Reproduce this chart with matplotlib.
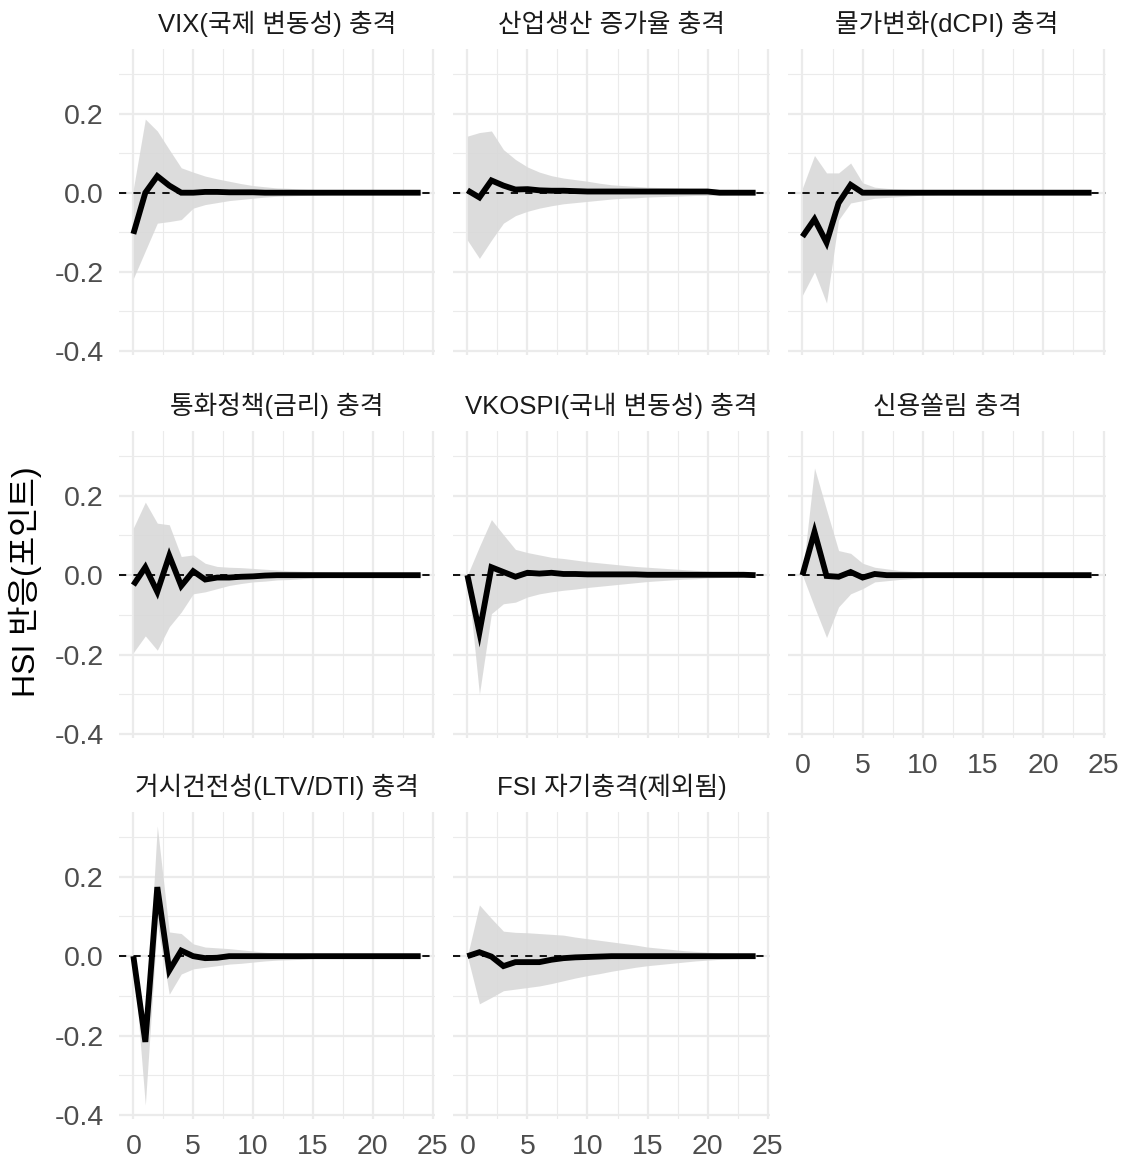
import numpy as np
import matplotlib
matplotlib.use("Agg")
import matplotlib.pyplot as plt

plt.rcParams['font.family'] = ['Liberation Sans', 'Noto Sans CJK KR', 'DejaVu Sans']

horizon = np.arange(0, 25)

titles = ["VIX(국제 변동성) 충격", "산업생산 증가율 충격", "물가변화(dCPI) 충격",
          "통화정책(금리) 충격", "VKOSPI(국내 변동성) 충격", "신용쏠림 충격",
          "거시건전성(LTV/DTI) 충격", "FSI 자기충격(제외됨)"]

def tail(vals, n=25):
    vals = list(vals)
    return vals + [vals[-1]] * (n - len(vals))

# IRF point estimates
irf_vix = tail([-0.104, 0.0, 0.042, 0.018, 0.0, 0.0, 0.002, 0.002, 0.001, 0.001, 0.001,
                0.0])
irf_ip = tail([0.006, -0.012, 0.031, 0.018, 0.008, 0.009, 0.006, 0.005, 0.005, 0.004,
               0.003, 0.003, 0.003, 0.003, 0.003, 0.003, 0.003, 0.003, 0.003, 0.003,
               0.003, 0.0])
irf_cpi = tail([-0.111, -0.067, -0.126, -0.026, 0.02, 0.0])
irf_mp = tail([-0.025, 0.02, -0.042, 0.049, -0.027, 0.01, -0.011, -0.006, -0.006,
               -0.004, -0.003, -0.001, 0.0])
irf_vkospi = tail([0.0, -0.144, 0.02, 0.008, -0.004, 0.006, 0.004, 0.006, 0.003, 0.003,
                   0.002, 0.002, 0.002, 0.002, 0.002, 0.001, 0.001, 0.001, 0.001, 0.001,
                   0.001, 0.001, 0.001, 0.001, 0.0])
irf_credit = tail([0.0, 0.109, -0.002, -0.004, 0.008, -0.006, 0.003, 0.0])
irf_macro = tail([0.0, -0.216, 0.174, -0.036, 0.014, 0.0, -0.005, -0.004, 0.0])
irf_fsi = tail([0.0, 0.01, -0.001, -0.025, -0.015, -0.015, -0.015, -0.009, -0.005,
                -0.003, -0.002, -0.001, 0.0])

# Upper bounds
up_vix = tail([0.01, 0.186, 0.156, 0.109, 0.063, 0.052, 0.042, 0.035, 0.029, 0.023,
               0.018, 0.015, 0.012, 0.011, 0.009, 0.008, 0.007, 0.006, 0.005, 0.004,
               0.003, 0.003, 0.002, 0.002, 0.002])
up_ip = tail([0.143, 0.152, 0.156, 0.109, 0.084, 0.065, 0.052, 0.043, 0.037, 0.033,
              0.029, 0.024, 0.02, 0.018, 0.016, 0.014, 0.013, 0.012, 0.011, 0.01,
              0.009, 0.008, 0.007, 0.006, 0.005])
up_cpi = tail([0.012, 0.094, 0.05, 0.05, 0.075, 0.025, 0.014, 0.011, 0.009, 0.008,
               0.006, 0.005, 0.004, 0.003, 0.002, 0.001])
up_mp = tail([0.119, 0.184, 0.131, 0.127, 0.047, 0.051, 0.03, 0.022, 0.02, 0.019,
              0.017, 0.015, 0.013, 0.011, 0.01, 0.009, 0.008, 0.007, 0.006, 0.005,
              0.004, 0.003, 0.002, 0.002, 0.001])
up_vkospi = tail([0.0, 0.072, 0.14, 0.102, 0.065, 0.057, 0.051, 0.045, 0.042, 0.038,
                  0.034, 0.031, 0.028, 0.025, 0.022, 0.02, 0.018, 0.016, 0.014, 0.012,
                  0.01, 0.008, 0.007, 0.005, 0.004])
up_credit = tail([0.0, 0.27, 0.165, 0.062, 0.055, 0.03, 0.02, 0.016, 0.012, 0.01,
                  0.008, 0.006, 0.004, 0.003, 0.002, 0.001])
up_macro = tail([0.0, -0.193, 0.328, 0.061, 0.057, 0.031, 0.023, 0.021, 0.019, 0.016,
                 0.013, 0.01, 0.008, 0.007, 0.006, 0.004, 0.003, 0.003, 0.002, 0.002,
                 0.001, 0.001, 0.001, 0.001, 0.001])
up_fsi = tail([0.0, 0.129, 0.095, 0.063, 0.06, 0.059, 0.057, 0.055, 0.053, 0.048,
               0.044, 0.04, 0.036, 0.032, 0.028, 0.023, 0.02, 0.017, 0.014, 0.012,
               0.01, 0.008, 0.007, 0.006, 0.004])

# Lower bounds
lo_vix = tail([-0.217, -0.147, -0.077, -0.073, -0.068, -0.039, -0.03, -0.025, -0.02,
               -0.017, -0.014, -0.011, -0.009, -0.008, -0.007, -0.006, -0.005, -0.004,
               -0.004, -0.003, -0.002, -0.002, -0.001, -0.001, -0.001])
lo_ip = tail([-0.12, -0.166, -0.12, -0.077, -0.058, -0.047, -0.039, -0.033, -0.028,
              -0.025, -0.022, -0.019, -0.016, -0.014, -0.013, -0.011, -0.01, -0.009,
              -0.008, -0.007, -0.007, -0.006, -0.005, -0.004, -0.004])
lo_cpi = tail([-0.259, -0.2, -0.279, -0.069, -0.026, -0.02, -0.014, -0.012, -0.01,
               -0.008, -0.006, -0.005, -0.003, -0.002, -0.001, -0.001])
lo_mp = tail([-0.195, -0.153, -0.189, -0.13, -0.093, -0.047, -0.042, -0.034, -0.026,
              -0.021, -0.017, -0.015, -0.012, -0.011, -0.009, -0.007, -0.006, -0.005,
              -0.004, -0.003, -0.002, -0.002, -0.001, -0.001, -0.001])
lo_vkospi = tail([0.0, -0.30, -0.097, -0.072, -0.068, -0.055, -0.047, -0.042, -0.038,
                  -0.035, -0.031, -0.028, -0.025, -0.022, -0.019, -0.016, -0.014,
                  -0.012, -0.01, -0.009, -0.007, -0.006, -0.005, -0.004, -0.003])
lo_credit = tail([0.0, -0.08, -0.157, -0.08, -0.047, -0.034, -0.017, -0.014, -0.011,
                  -0.009, -0.007, -0.005, -0.003, -0.002, -0.001, -0.001])
lo_macro = tail([0.0, -0.375, 0.082, -0.096, -0.045, -0.032, -0.028, -0.024, -0.02,
                 -0.018, -0.015, -0.012, -0.01, -0.009, -0.008, -0.006, -0.005, -0.004,
                 -0.003, -0.003, -0.002, -0.002, -0.001, -0.001, -0.001])
lo_fsi = tail([0.0, -0.12, -0.104, -0.087, -0.083, -0.079, -0.075, -0.069, -0.062,
               -0.055, -0.049, -0.044, -0.038, -0.033, -0.028, -0.024, -0.021, -0.018,
               -0.015, -0.012, -0.01, -0.008, -0.007, -0.006, -0.005])

irfs = [irf_vix, irf_ip, irf_cpi, irf_mp, irf_vkospi, irf_credit, irf_macro, irf_fsi]
uppers = [up_vix, up_ip, up_cpi, up_mp, up_vkospi, up_credit, up_macro, up_fsi]
lowers = [lo_vix, lo_ip, lo_cpi, lo_mp, lo_vkospi, lo_credit, lo_macro, lo_fsi]

y_ticks = [-0.4, -0.2, 0.0, 0.2]
y_tick_labels = ["-0.4", "-0.2", "0.0", "0.2"]
x_ticks = [0, 5, 10, 15, 20, 25]
x_tick_labels = ["0", "5", "10", "15", "20", "25"]

W, H = 1127, 1160
fig = plt.figure(figsize=(W / 100, H / 100), dpi=100)
fig.patch.set_facecolor("white")

col_lr = [(119, 435), (453, 770), (788, 1106)]
row_tb = [(49, 355), (431, 738), (812, 1119)]

all_lo = min(min(l) for l in lowers)
all_hi = max(max(u) for u in uppers)
pad = 0.05 * (all_hi - all_lo)
ylim = (all_lo - pad, all_hi + pad)
xpad = 0.05 * (horizon.max() - horizon.min())
xlim = (horizon.min() - xpad, horizon.max() + xpad)

grid_col = "#EBEBEB"
tick_col = "#4D4D4D"

for i, title in enumerate(titles):
    r, c = divmod(i, 3)
    l, rr = col_lr[c]
    t, b = row_tb[r]
    ax = fig.add_axes([l / W, 1 - b / H, (rr - l) / W, (b - t) / H])
    ax.set_xlim(*xlim)
    ax.set_ylim(*ylim)
    for s in ax.spines.values():
        s.set_visible(False)
    # grid
    for yv in [-0.4, -0.2, 0.0, 0.2]:
        ax.axhline(yv, color=grid_col, lw=1.6, zorder=0)
    for yv in [-0.3, -0.1, 0.1, 0.3]:
        ax.axhline(yv, color=grid_col, lw=0.8, zorder=0)
    for xv in x_ticks:
        ax.axvline(xv, color=grid_col, lw=1.6, zorder=0)
    for xv in [2.5, 7.5, 12.5, 17.5, 22.5]:
        ax.axvline(xv, color=grid_col, lw=0.8, zorder=0)

    ax.fill_between(horizon, lowers[i], uppers[i], color="#D9D9D9", alpha=0.9,
                    lw=0, zorder=1)
    ax.axhline(0, color="black", lw=1.3, ls=(0, (4, 4)), zorder=2)
    ax.plot(horizon, irfs[i], color="black", lw=4.2, solid_joinstyle="miter",
            solid_capstyle="butt", zorder=3)

    ax.set_yticks(y_ticks)
    ax.set_xticks(x_ticks)
    ax.tick_params(length=0, colors=tick_col, labelsize=20.5)
    ax.tick_params(axis="x", pad=11)
    ax.tick_params(axis="y", pad=11)
    if c == 0:
        ax.set_yticklabels(y_tick_labels)
    else:
        ax.set_yticklabels([])
    if i in (5, 6, 7):
        ax.set_xticklabels(x_tick_labels)
    else:
        ax.set_xticklabels([])
    ax.set_title(title, fontsize=18.5, color="#1A1A1A", pad=12.5)

fig.text(25 / W, 1 - 582 / H, "HSI 반응(포인트)", rotation=90, ha="center",
         va="center", fontsize=23, color="black")

fig.savefig("out.png", dpi=100, facecolor="white")
